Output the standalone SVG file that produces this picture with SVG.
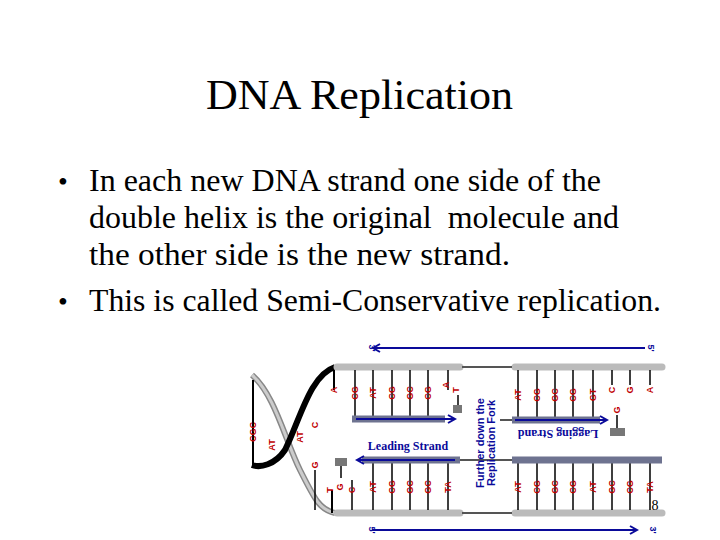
<svg xmlns="http://www.w3.org/2000/svg" width="720" height="540" viewBox="0 0 720 540">
<defs>
<style>
.t{font-family:"Liberation Serif",serif;fill:#000}
.b{font-family:"Liberation Sans",sans-serif;font-size:9px;font-weight:bold;fill:#c00000}
.bl{stroke:#0a0a9a;stroke-width:2;fill:none}
.strand{stroke:#bbb;stroke-width:7;stroke-linecap:round;fill:none}
.ns{stroke:#6e7390;stroke-width:7;fill:none}
.tick{stroke:#000;stroke-width:1.5}
.thin{stroke:#555;stroke-width:2}
</style>
<marker id="ah" markerWidth="10" markerHeight="10" refX="8" refY="5" orient="auto" markerUnits="userSpaceOnUse"><path d="M1,1 L8,5 L1,9" fill="none" stroke="#0a0a9a" stroke-width="2"/></marker>
</defs>
<rect width="720" height="540" fill="#fff"/>
<text class="t" x="206" y="109" font-size="43" textLength="307" lengthAdjust="spacingAndGlyphs">DNA Replication</text>
<g class="t" font-size="31">
<text x="58" y="191" font-size="28">•</text><text x="89" y="191" textLength="512" lengthAdjust="spacingAndGlyphs">In each new DNA strand one side of the</text>
<text x="89" y="228" textLength="530" lengthAdjust="spacingAndGlyphs" xml:space="preserve">double helix is the original  molecule and</text>
<text x="89" y="265" textLength="421" lengthAdjust="spacingAndGlyphs">the other side is the new strand.</text>
<text x="58" y="311" font-size="28">•</text><text x="89" y="311" textLength="572" lengthAdjust="spacingAndGlyphs">This is called Semi-Conservative replication.</text>
</g>
<g id="figure">
<g id="helix">
<path d="M252,375 C275,395 285,440 300,470 C315,500 320,510 335,513" stroke="#888" stroke-width="6" fill="none"/>
<path d="M252,375 C275,395 285,440 300,470 C315,500 320,510 335,513" stroke="#ccc" stroke-width="3" fill="none"/>
<path d="M335,367 C310,375 300,420 285,450 C275,465 260,468 252,465" stroke="#000" stroke-width="6" fill="none"/>
<line x1="253" y1="380" x2="253" y2="465" stroke="#000" stroke-width="2"/>
<line x1="334" y1="367" x2="334" y2="390" stroke="#000" stroke-width="2"/>
<line x1="332" y1="490" x2="332" y2="513" stroke="#000" stroke-width="2"/>
</g>
<g id="parent">
<line class="strand" x1="337" y1="367" x2="460" y2="367"/>
<line class="strand" x1="515" y1="367" x2="662" y2="367"/>
<line class="strand" x1="337" y1="513" x2="460" y2="513"/>
<line class="strand" x1="515" y1="513" x2="662" y2="513"/>
<line class="thin" x1="462" y1="367" x2="512" y2="367"/>
<line class="thin" x1="462" y1="513" x2="512" y2="513"/>
</g>
<g id="ticks">
<path class="tick" d="M355,370V419M373,370V419M392,370V419M410,370V419M428,370V419M448,370V390M518,370V419M537,370V419M555,370V419M573,370V419M593,370V419M612,370V385M630,370V385M650,370V385"/>
<path class="tick" d="M315,470V510M352,480V510M373,460V510M392,460V510M410,460V510M428,460V510M448,460V510M518,460V510M537,460V510M555,460V510M573,460V510M593,460V510M612,460V510M630,460V510M650,460V510"/>
</g>
<g id="new">
<line class="ns" x1="352" y1="419" x2="445" y2="419"/>
<line class="bl" x1="356" y1="419" x2="455" y2="419" marker-end="url(#ah)"/>
<line class="thin" x1="500" y1="420" x2="512" y2="420"/>
<line class="ns" x1="512" y1="420" x2="600" y2="420"/>
<line class="bl" x1="515" y1="420" x2="607" y2="420" marker-end="url(#ah)"/>
<line class="ns" x1="362" y1="460" x2="460" y2="460"/>
<line class="bl" x1="455" y1="460" x2="357" y2="460" marker-end="url(#ah)"/>
<line class="thin" x1="460" y1="460" x2="512" y2="460"/>
<line class="ns" x1="512" y1="460" x2="662" y2="460"/>
<rect x="453" y="405" width="9" height="8" fill="#777"/>
<rect x="610" y="428" width="15" height="8" fill="#777"/>
<rect x="335" y="458" width="12" height="8" fill="#777"/>
<line class="tick" x1="458" y1="395" x2="458" y2="405"/><line class="tick" x1="617" y1="415" x2="617" y2="428"/><line class="tick" x1="341" y1="466" x2="341" y2="478"/>
</g>
<g id="arrows">
<line class="bl" x1="645" y1="348" x2="373" y2="348" marker-end="url(#ah)"/>
<line class="bl" x1="372" y1="530" x2="637" y2="530" marker-end="url(#ah)"/>
<g class="b" style="fill:#0a0a9a">
<text transform="translate(369,348) rotate(90)" text-anchor="middle">3'</text>
<text transform="translate(648,348) rotate(90)" text-anchor="middle">5'</text>
<text transform="translate(369,530) rotate(90)" text-anchor="middle">5'</text>
<text transform="translate(650,530) rotate(90)" text-anchor="middle">3'</text>
</g>
</g>
<g id="bases" class="b">
<text transform="translate(358,393) rotate(-90)" text-anchor="middle">CG</text>
<text transform="translate(376,393) rotate(-90)" text-anchor="middle">AT</text>
<text transform="translate(395,393) rotate(-90)" text-anchor="middle">CG</text>
<text transform="translate(413,393) rotate(-90)" text-anchor="middle">GC</text>
<text transform="translate(431,393) rotate(-90)" text-anchor="middle">CG</text>
<text transform="translate(449,385) rotate(-90)" text-anchor="middle">A</text>
<text transform="translate(459,390) rotate(-90)" text-anchor="middle">T</text>
<text transform="translate(521,395) rotate(-90)" text-anchor="middle">AT</text>
<text transform="translate(540,395) rotate(-90)" text-anchor="middle">CG</text>
<text transform="translate(558,395) rotate(-90)" text-anchor="middle">GC</text>
<text transform="translate(576,395) rotate(-90)" text-anchor="middle">CG</text>
<text transform="translate(596,395) rotate(-90)" text-anchor="middle">GT</text>
<text transform="translate(615,390) rotate(-90)" text-anchor="middle">C</text>
<text transform="translate(633,390) rotate(-90)" text-anchor="middle">G</text>
<text transform="translate(653,390) rotate(-90)" text-anchor="middle">A</text>
<text transform="translate(620,410) rotate(-90)" text-anchor="middle">G</text>
<text transform="translate(337,390) rotate(-90)" text-anchor="middle">A</text>
<text transform="translate(318,425) rotate(-90)" text-anchor="middle">C</text>
<text transform="translate(303,437) rotate(-90)" text-anchor="middle">AT</text>
<text transform="translate(275,445) rotate(-90)" text-anchor="middle">AT</text>
<text transform="translate(256,432) rotate(-90)" text-anchor="middle">CGC</text>
<text transform="translate(318,465) rotate(-90)" text-anchor="middle">G</text>
<text transform="translate(333,490) rotate(-90)" text-anchor="middle">T</text>
<text transform="translate(343,487) rotate(-90)" text-anchor="middle">G</text>
<text transform="translate(355,490) rotate(-90)" text-anchor="middle">C</text>
<text transform="translate(376,487) rotate(-90)" text-anchor="middle">AT</text>
<text transform="translate(395,487) rotate(-90)" text-anchor="middle">CG</text>
<text transform="translate(413,487) rotate(-90)" text-anchor="middle">GC</text>
<text transform="translate(431,487) rotate(-90)" text-anchor="middle">GC</text>
<text transform="translate(451,487) rotate(-90)" text-anchor="middle">TA</text>
<text transform="translate(521,487) rotate(-90)" text-anchor="middle">AT</text>
<text transform="translate(540,487) rotate(-90)" text-anchor="middle">CG</text>
<text transform="translate(558,487) rotate(-90)" text-anchor="middle">GC</text>
<text transform="translate(576,487) rotate(-90)" text-anchor="middle">CG</text>
<text transform="translate(596,487) rotate(-90)" text-anchor="middle">AT</text>
<text transform="translate(615,487) rotate(-90)" text-anchor="middle">GC</text>
<text transform="translate(633,487) rotate(-90)" text-anchor="middle">CG</text>
<text transform="translate(653,487) rotate(-90)" text-anchor="middle">TA</text>
</g>
<g id="labels" font-family="Liberation Serif,serif" fill="#0a0a9a">
<text x="408" y="450" font-size="12" font-weight="bold" text-anchor="middle">Leading Strand</text>
<text transform="translate(558,430) rotate(180)" font-size="12" font-weight="bold" text-anchor="middle">Lagging Strand</text>
<text transform="translate(484,443) rotate(-90)" font-size="11" font-weight="bold" text-anchor="middle" font-family="Liberation Sans,sans-serif">Further down the</text>
<text transform="translate(495,443) rotate(-90)" font-size="11" font-weight="bold" text-anchor="middle" font-family="Liberation Sans,sans-serif">Replication Fork</text>
</g>
</g>
<text class="t" x="655" y="510" font-size="14" text-anchor="middle">8</text>
</svg>
